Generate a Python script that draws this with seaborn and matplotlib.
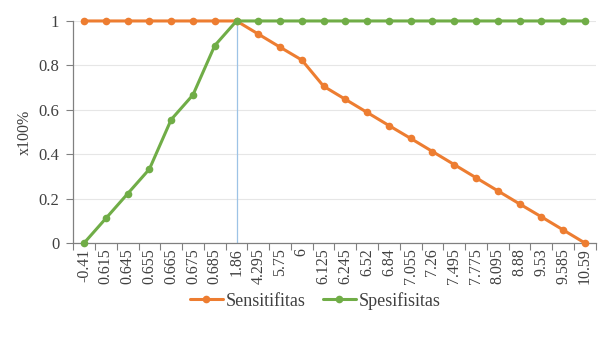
import matplotlib
matplotlib.use("Agg")
import matplotlib.pyplot as plt
import seaborn as sns
import pandas as pd

# Cut-off values and the resulting sensitivity / specificity
cutoffs = ["-0.41", "0.615", "0.645", "0.655", "0.665", "0.675", "0.685", "1.86",
           "4.295", "5.75", "6", "6.125", "6.245", "6.52", "6.84", "7.055",
           "7.26", "7.495", "7.775", "8.095", "8.88", "9.53", "9.585", "10.59"]
sensitifitas = [1, 1, 1, 1, 1, 1, 1, 1,
                0.941, 0.882, 0.824, 0.706, 0.647, 0.588, 0.529, 0.471,
                0.412, 0.353, 0.294, 0.235, 0.176, 0.118, 0.059, 0]
spesifisitas = [0, 0.111, 0.222, 0.333, 0.556, 0.667, 0.889, 1,
                1, 1, 1, 1, 1, 1, 1, 1,
                1, 1, 1, 1, 1, 1, 1, 1]
series_names = ["Sensitifitas", "Spesifisitas"]
optimal_cutoff = "1.86"

colors = {"Sensitifitas": "#ED7D31", "Spesifisitas": "#70AD47"}

pos = list(range(len(cutoffs)))
df = pd.DataFrame({
    "pos": pos * 2,
    "value": sensitifitas + spesifisitas,
    "series": [series_names[0]] * len(pos) + [series_names[1]] * len(pos),
})

sns.set_theme(style="white")
plt.rcParams["font.family"] = ["Liberation Serif", "DejaVu Serif"]

fig = plt.figure(figsize=(6, 3.38), dpi=100)
ax = fig.add_axes([0.122, 0.281, 0.871, 0.657])

ax.axvline(cutoffs.index(optimal_cutoff), color="#9DC3E6", lw=0.9, zorder=1)

sns.lineplot(data=df, x="pos", y="value", hue="series", palette=colors,
             marker="o", markersize=5.5, markeredgewidth=0, linewidth=2.2,
             ax=ax, zorder=3, clip_on=False)

ax.set_xlim(-0.5, len(cutoffs) - 0.5)
ax.set_ylim(0, 1)
ax.set_yticks([0, 0.2, 0.4, 0.6, 0.8, 1])
ax.set_yticklabels(["0", "0.2", "0.4", "0.6", "0.8", "1"])
ax.set_xticks(pos)
ax.set_xticklabels(cutoffs, rotation=90)
ax.set_xticks([p + 0.5 for p in range(-1, len(cutoffs))], minor=True)
ax.tick_params(axis="x", which="major", length=0, labelsize=11.5, pad=4, colors="#404040")
ax.tick_params(axis="x", which="minor", length=5, width=0.8, color="#808080", direction="out", bottom=True)
ax.tick_params(axis="y", length=5, width=0.8, color="#808080", direction="out", left=True,
               labelsize=12, labelcolor="#404040", pad=5)

ax.yaxis.grid(True, color="#E6E6E6", lw=0.8)
ax.set_axisbelow(True)
for side in ["top", "right"]:
    ax.spines[side].set_visible(False)
for side in ["left", "bottom"]:
    ax.spines[side].set_color("#808080")
    ax.spines[side].set_linewidth(0.9)

ax.set_xlabel("")
ax.set_ylabel("x100%", fontsize=11.5, color="#404040", labelpad=4)

handles, labels = ax.get_legend_handles_labels()
ax.legend(handles, labels, loc="center", bbox_to_anchor=(0.463, -0.26),
          ncol=2, frameon=False, fontsize=13, handlelength=1.8,
          columnspacing=1.0, handletextpad=0.15, labelcolor="#404040",
          borderaxespad=0)

fig.savefig("out.png", dpi=100)
